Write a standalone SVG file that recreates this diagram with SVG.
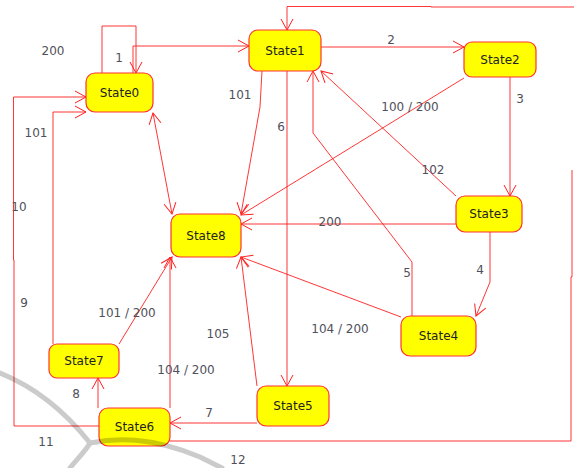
<svg xmlns="http://www.w3.org/2000/svg" width="574" height="468" viewBox="0 0 574 468">
<style>
.bg{fill:#ffffff}
.node rect{fill:#ffff00;stroke:#ff3333;stroke-width:1.2}
.node text{font-family:"DejaVu Sans",sans-serif;font-size:12px;fill:#222;text-anchor:middle}
.edges path{fill:none;stroke:#ff2020;stroke-width:1;stroke-opacity:0.9}
.lbl{font-family:"DejaVu Sans",sans-serif;font-size:12px;fill:#50505a;text-anchor:middle}
.wm path{fill:none;stroke:#000;stroke-width:5;stroke-linecap:round;stroke-linejoin:round}
</style>
<defs>
<marker id="arr" markerUnits="userSpaceOnUse" markerWidth="16" markerHeight="16" refX="13" refY="8" orient="auto-start-reverse">
<path d="M2,2 L13,8 L2,14" fill="none" stroke="#ff2020" stroke-width="1"/>
</marker>
</defs>
<rect class="bg" x="0" y="0" width="574" height="468"/>
<g id="connectors" class="edges">
<path d="M102,73 V26 H136 V73" marker-end="url(#arr)"/>
<path d="M133,73 V46 H249" marker-end="url(#arr)"/>
<path d="M321,47 H464" marker-end="url(#arr)"/>
<path d="M510,77 V196" marker-end="url(#arr)"/>
<path d="M464,78 L241,215" marker-end="url(#arr)"/>
<path d="M262,71 L260,107 L241,214" marker-end="url(#arr)"/>
<path d="M287,71 V386" marker-end="url(#arr)"/>
<path d="M574,7 H431 V6.5 H287 V30" marker-end="url(#arr)"/>
<path d="M170,441 H571 V277 H572 V170"/>
<path d="M456,196 L321,71" marker-end="url(#arr)"/>
<path d="M412,316 V262 L313,133 V71" marker-end="url(#arr)"/>
<path d="M456,224 H241" marker-end="url(#arr)"/>
<path d="M490,232 V282 L476,316" marker-end="url(#arr)"/>
<path d="M401,317 L241,257" marker-end="url(#arr)"/>
<path d="M257,386 L241,257" marker-end="url(#arr)"/>
<path d="M257,423 H170" marker-end="url(#arr)"/>
<path d="M170,408 V257" marker-end="url(#arr)"/>
<path d="M119,344 L172,257" marker-end="url(#arr)"/>
<path d="M98,408 V378" marker-end="url(#arr)"/>
<path d="M53,344 V112 H86" marker-end="url(#arr)"/>
<path d="M99,426 H14 V260 H13.5 V97 H86" marker-end="url(#arr)"/>
<path d="M153,113 L172,214" marker-start="url(#arr)" marker-end="url(#arr)"/>
</g>
<g id="labels">
<text class="lbl" x="53" y="55">200</text>
<text class="lbl" x="119" y="62">1</text>
<text class="lbl" x="391" y="44">2</text>
<text class="lbl" x="520" y="103">3</text>
<text class="lbl" x="410" y="111">100 / 200</text>
<text class="lbl" x="240" y="99">101</text>
<text class="lbl" x="281" y="131">6</text>
<text class="lbl" x="433" y="174">102</text>
<text class="lbl" x="330" y="226">200</text>
<text class="lbl" x="19" y="211">10</text>
<text class="lbl" x="36" y="137">101</text>
<text class="lbl" x="24" y="307">9</text>
<text class="lbl" x="127" y="317">101 / 200</text>
<text class="lbl" x="218" y="338">105</text>
<text class="lbl" x="186" y="374">104 / 200</text>
<text class="lbl" x="76" y="398">8</text>
<text class="lbl" x="209" y="417">7</text>
<text class="lbl" x="46" y="446">11</text>
<text class="lbl" x="238" y="464">12</text>
<text class="lbl" x="407" y="277">5</text>
<text class="lbl" x="480" y="274">4</text>
<text class="lbl" x="340" y="333">104 / 200</text>
</g>
<g id="State0" class="node"><rect x="86" y="73" width="67" height="39" rx="9"/><text x="119.5" y="96.5">State0</text></g>
<g id="State1" class="node"><rect x="249" y="30" width="72" height="41" rx="9"/><text x="285" y="55">State1</text></g>
<g id="State2" class="node"><rect x="464" y="42" width="72" height="35" rx="8"/><text x="500" y="63.5">State2</text></g>
<g id="State3" class="node"><rect x="456" y="196" width="66" height="36" rx="9"/><text x="489" y="218">State3</text></g>
<g id="State4" class="node"><rect x="401" y="316" width="75" height="40" rx="9"/><text x="438.5" y="340">State4</text></g>
<g id="State5" class="node"><rect x="257" y="386" width="72" height="40" rx="9"/><text x="293" y="410">State5</text></g>
<g id="State6" class="node"><rect x="99" y="408" width="71" height="38" rx="9"/><text x="134.5" y="431">State6</text></g>
<g id="State7" class="node"><rect x="49" y="344" width="70" height="34" rx="8"/><text x="84" y="365">State7</text></g>
<g id="State8" class="node"><rect x="171" y="214" width="70" height="43" rx="9"/><text x="206" y="239.5">State8</text></g>
<g id="watermark" class="wm" opacity="0.2">
<path d="M0,373 C30,385 60,405 90,443 C85,452 76,460 70,468"/>
<path d="M90,443 C115,438 150,436 200,457 L222,468"/>
</g>
</svg>
